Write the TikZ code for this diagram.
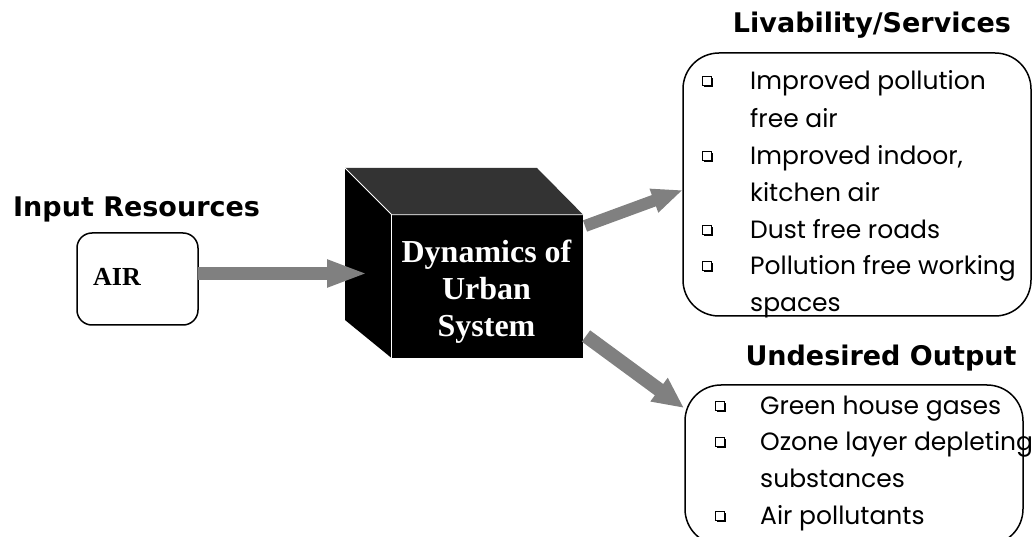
\documentclass[tikz,border=0pt]{standalone}
\usepackage{fontspec}
\setmainfont{Liberation Serif}
\newfontfamily\headfont{DejaVu Sans}
\newfontfamily\listfont{Poppins}
\usetikzlibrary{arrows.meta,shadows}
\definecolor{arrowgray}{HTML}{808080}
\definecolor{topgray}{HTML}{333333}
\begin{document}
\begin{tikzpicture}[x=1pt,y=-1pt,
  head/.style={font=\headfont\bfseries\fontsize{27}{32}\selectfont, inner sep=0pt},
  listtxt/.style={font=\listfont\fontsize{25}{30}\selectfont, anchor=mid west, inner sep=0pt, yshift=-4pt},
  bulsq/.style={draw, line width=1pt, minimum size=9.5pt, inner sep=0pt, fill=white, yshift=2pt,
    drop shadow={shadow xshift=1.6pt, shadow yshift=-1.6pt, fill=black, opacity=1}},
  panel/.style={draw, line width=1.5pt, rounded corners=36pt, inner sep=0pt},
  flowin/.style={arrowgray, line width=13pt, -{Triangle[length=41pt,width=25pt]}},
  flowout/.style={arrowgray, line width=13pt, -{Triangle[length=31pt,width=25pt]}}
]
\useasboundingbox (0,0) rectangle (1034,537);

% headings
\node[head, anchor=base west] (hin) at (13,216.5) {Input Resources};
\node[head, anchor=base] (hliv) at (872,33) {Livability/Services};
\node[head, anchor=base] (hund) at (881,366) {Undesired Output};

% input box
\node[draw, line width=1.5pt, rounded corners=15pt, minimum width=121pt, minimum height=92pt, inner sep=0pt] (air) at (137.5,279) {};
\node[font=\bfseries\fontsize{26}{30}\selectfont, anchor=west, inner sep=0pt] (airtxt) at (93,277) {AIR};

% cube
\node[fill=black, minimum width=191pt, minimum height=143pt, inner sep=0pt] (cube) at (487.5,286.5) {};
\coordinate (tbl) at (345,168);
\coordinate (tbr) at (537,168);
\coordinate (lbb) at (345,320);
\fill[topgray] (tbl) -- (tbr) -- (cube.north east) -- (cube.north west) -- cycle;
\fill[black] (tbl) -- (cube.north west) -- (cube.south west) -- (lbb) -- cycle;
\draw[white, line width=0.9pt] (tbl) -- (cube.north west) -- (cube.north east);
\draw[white, line width=0.9pt] (cube.north west) -- (cube.south west);
\node[text=white, font=\bfseries\fontsize{32}{37}\selectfont, align=center, inner sep=0pt] (cubetxt) at (486.5,292) {Dynamics of\\Urban\\System};

% output panels
\node[panel, minimum width=348pt, minimum height=263pt] (liv) at (857,184.5) {};
\node[panel, minimum width=338pt, minimum height=160pt] (und) at (854,465) {};

% arrows
\coordinate (ain) at (198,273.5);
\coordinate (aout) at (368,273.5);
\draw[flowin] (ain) -- (aout);
\coordinate (u0) at (585,226);
\coordinate (u1) at (683,190);
\draw[flowout, line width=12pt, -{Triangle[length=31pt,width=23pt]}] (u0) -- (u1);
\coordinate (d0) at (586,336);
\coordinate (d1) at (684,408);
\draw[flowout, line width=14pt, -{Triangle[length=31pt,width=27pt]}] (d0) -- (d1);

% upper list
\node[bulsq] (b1) at (707,83) {};
\node[bulsq] (b2) at (707,158) {};
\node[bulsq] (b3) at (707,232) {};
\node[bulsq] (b4) at (707,268) {};
\node[listtxt] (l1) at (750,83) {Improved pollution};
\node[listtxt] (l2) at (750,121) {free air};
\node[listtxt] (l3) at (750,158) {Improved indoor,};
\node[listtxt] (l4) at (750,195) {kitchen air};
\node[listtxt] (l5) at (750,232) {Dust free roads};
\node[listtxt] (l6) at (750,268) {Pollution free working};
\node[listtxt] (l7) at (750,305) {spaces};

% lower list
\node[bulsq] (c1) at (720,408) {};
\node[bulsq] (c2) at (720,444) {};
\node[bulsq] (c3) at (720,518) {};
\node[listtxt] (m1) at (760,408) {Green house gases};
\node[listtxt] (m2) at (760,444) {Ozone layer depleting};
\node[listtxt] (m3) at (760,481) {substances};
\node[listtxt] (m4) at (760,518) {Air pollutants};
\end{tikzpicture}
\end{document}
